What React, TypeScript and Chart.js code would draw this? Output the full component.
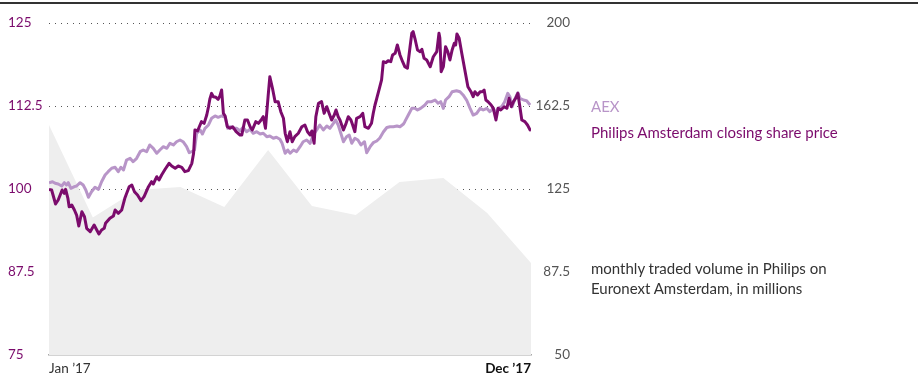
import React, { useEffect, useRef } from "react";
import { Chart, registerables } from "chart.js";

Chart.register(...registerables);

const FONT = 'Lato, "Liberation Sans", Arial, sans-serif';

const DARK = "#7b0b6c";
const LIGHT = "#b895c8";

// Monthly traded volume (millions), right axis, one point per month (Jan..Dec)
const volumeMonths = [0, 1, 2, 3, 4, 5, 6, 7, 8, 9, 10, 11];
const volumeMillions = [153.9, 112.1, 124.5, 125.9, 116.9, 142.6, 117.3, 113.3, 128.2, 130.0, 114.2, 91.6];

// [month position (0 = Jan, 11 = Dec), index value] — Philips Amsterdam closing share price (indexed)
const philipsSeries: [number, number][] = [
  [0, 99.95], [0.06, 99.85], [0.15, 97.74], [0.21, 98.34], [0.3, 99.85], [0.35, 99.35], [0.38, 99.95], [0.43, 98.64],
  [0.46, 97.33], [0.52, 97.59], [0.58, 96.84], [0.63, 96.08], [0.68, 94.43], [0.75, 96.58], [0.81, 95.83], [0.86, 94.08],
  [0.94, 93.57], [1.03, 94.58], [1.09, 93.83], [1.14, 93.22], [1.2, 93.83], [1.26, 94.08], [1.29, 94.83], [1.39, 95.59],
  [1.47, 95.93], [1.51, 96.84], [1.58, 96.34], [1.66, 96.84], [1.73, 98.6], [1.83, 100.35], [1.89, 100.6], [1.95, 99.59],
  [2.02, 99.1], [2.1, 98.24], [2.17, 98.84], [2.27, 100.35], [2.34, 101.1], [2.38, 100.75], [2.46, 101.85], [2.51, 101.36],
  [2.57, 102.11], [2.65, 102.97], [2.74, 103.87], [2.8, 103.46], [2.88, 103.12], [2.95, 103.46], [3.03, 103.27], [3.1, 102.61],
  [3.18, 102.76], [3.26, 103.87], [3.3, 105.38], [3.33, 108.89], [3.39, 108.74], [3.43, 109.38], [3.48, 110.14], [3.54, 109.89],
  [3.6, 111.14], [3.64, 112.39], [3.67, 113.51], [3.71, 114.41], [3.75, 113.9], [3.81, 113.81], [3.86, 113.51], [3.9, 114.01],
  [3.94, 114.91], [3.98, 111.4], [4.02, 111.0], [4.07, 109.38], [4.13, 109.14], [4.19, 109.38], [4.27, 108.63], [4.36, 108.13],
  [4.4, 108.13], [4.47, 110.39], [4.53, 110.39], [4.59, 109.38], [4.64, 108.89], [4.72, 110.14], [4.78, 109.89], [4.84, 110.39],
  [4.89, 110.89], [4.94, 109.14], [5.0, 113.9], [5.04, 116.91], [5.1, 115.17], [5.16, 113.15], [5.23, 113.15], [5.29, 111.64],
  [5.35, 110.65], [5.39, 108.39], [5.44, 107.12], [5.5, 108.63], [5.55, 107.12], [5.61, 107.88], [5.69, 108.39], [5.77, 109.38],
  [5.84, 109.64], [5.9, 108.63], [5.96, 108.13], [6.0, 108.74], [6.05, 106.88], [6.09, 110.89], [6.15, 112.91], [6.22, 113.15],
  [6.28, 111.4], [6.34, 112.39], [6.39, 111.45], [6.45, 110.39], [6.51, 111.14], [6.55, 111.9], [6.6, 110.89], [6.64, 110.39],
  [6.72, 108.89], [6.78, 109.89], [6.83, 110.89], [6.89, 110.39], [6.93, 109.64], [6.98, 108.63], [7.02, 110.65], [7.1, 110.89],
  [7.16, 111.4], [7.21, 109.38], [7.29, 109.14], [7.36, 109.89], [7.4, 111.4], [7.44, 112.65], [7.48, 113.66], [7.54, 115.17],
  [7.59, 116.42], [7.63, 119.17], [7.69, 119.02], [7.74, 119.32], [7.8, 119.17], [7.84, 120.18], [7.9, 120.44], [7.95, 121.69],
  [8.01, 120.18], [8.07, 119.17], [8.12, 118.42], [8.18, 118.18], [8.24, 121.43], [8.28, 123.45], [8.31, 123.69], [8.35, 122.7],
  [8.41, 120.93], [8.47, 120.68], [8.51, 121.04], [8.56, 119.68], [8.62, 119.43], [8.7, 118.42], [8.77, 119.92], [8.85, 120.68],
  [8.9, 123.45], [8.92, 122.74], [8.95, 117.67], [9.0, 118.42], [9.05, 121.43], [9.1, 120.68], [9.15, 119.43], [9.2, 120.93],
  [9.25, 121.94], [9.28, 121.69], [9.31, 123.34], [9.36, 122.7], [9.42, 120.44], [9.49, 117.92], [9.56, 115.41], [9.63, 114.65],
  [9.68, 113.9], [9.72, 114.65], [9.78, 114.16], [9.84, 114.65], [9.89, 114.65], [9.93, 114.91], [9.97, 113.4], [10.02, 113.15],
  [10.09, 112.65], [10.14, 112.15], [10.2, 110.39], [10.25, 112.15], [10.31, 111.9], [10.39, 112.39], [10.45, 112.15], [10.5, 113.66],
  [10.55, 112.39], [10.6, 113.15], [10.65, 113.66], [10.7, 114.41], [10.74, 112.65], [10.79, 110.39], [10.86, 110.14], [10.92, 109.64],
  [10.98, 108.89], [11.0, 108.81],
];

// [month position, index value] — AEX (indexed)
const aexSeries: [number, number][] = [
  [0, 100.95], [0.08, 101.1], [0.14, 100.86], [0.21, 100.75], [0.29, 100.45], [0.35, 100.95], [0.4, 100.6], [0.44, 100.95],
  [0.5, 100.11], [0.58, 100.35], [0.63, 100.45], [0.71, 100.95], [0.78, 100.6], [0.84, 99.85], [0.9, 98.75], [0.97, 99.59],
  [1.05, 100.26], [1.13, 99.95], [1.2, 101.1], [1.28, 102.11], [1.35, 102.61], [1.43, 103.12], [1.51, 103.27], [1.58, 102.61],
  [1.64, 103.27], [1.7, 102.86], [1.77, 104.37], [1.85, 104.62], [1.92, 104.11], [2.0, 104.62], [2.08, 105.62], [2.15, 105.87],
  [2.23, 105.62], [2.3, 106.63], [2.38, 106.13], [2.46, 105.38], [2.53, 105.87], [2.61, 106.37], [2.69, 106.13], [2.76, 106.88],
  [2.84, 106.63], [2.91, 107.12], [2.99, 107.38], [3.06, 107.12], [3.14, 106.37], [3.2, 105.47], [3.26, 105.62], [3.32, 105.87],
  [3.37, 108.39], [3.45, 108.89], [3.5, 108.28], [3.56, 109.14], [3.64, 109.64], [3.71, 110.65], [3.79, 111.0], [3.86, 110.8],
  [3.94, 111.0], [4.02, 110.8], [4.08, 109.14], [4.13, 109.38], [4.21, 109.14], [4.28, 109.14], [4.36, 108.78], [4.43, 109.29],
  [4.51, 108.63], [4.59, 108.99], [4.66, 108.39], [4.74, 108.63], [4.82, 108.28], [4.89, 108.39], [4.97, 107.88], [5.04, 107.98],
  [5.12, 107.64], [5.19, 107.79], [5.27, 107.49], [5.32, 106.88], [5.39, 105.38], [5.45, 105.87], [5.5, 105.38], [5.58, 105.87],
  [5.65, 105.62], [5.73, 106.37], [5.8, 107.12], [5.88, 107.38], [5.96, 106.88], [6.03, 108.13], [6.11, 108.89], [6.18, 109.64],
  [6.26, 108.89], [6.34, 109.49], [6.41, 109.14], [6.49, 109.89], [6.54, 110.39], [6.6, 109.64], [6.66, 108.39], [6.72, 107.12],
  [6.79, 107.88], [6.85, 108.13], [6.91, 106.88], [6.98, 107.64], [7.05, 107.38], [7.12, 106.63], [7.2, 107.12], [7.25, 105.47],
  [7.33, 106.37], [7.4, 106.97], [7.48, 107.23], [7.55, 107.68], [7.63, 108.58], [7.71, 109.26], [7.78, 109.38], [7.86, 109.38],
  [7.94, 109.49], [8.01, 109.38], [8.09, 109.79], [8.12, 110.14], [8.2, 111.14], [8.28, 112.15], [8.35, 112.15], [8.41, 111.9],
  [8.48, 112.15], [8.58, 112.65], [8.64, 113.15], [8.73, 113.15], [8.81, 113.4], [8.88, 112.91], [8.94, 113.15], [9.0, 112.15],
  [9.05, 113.4], [9.13, 113.9], [9.2, 114.65], [9.3, 114.8], [9.38, 114.65], [9.45, 114.16], [9.53, 113.4], [9.61, 112.15],
  [9.68, 111.14], [9.76, 111.4], [9.84, 112.15], [9.91, 111.9], [9.99, 112.15], [10.06, 111.64], [10.14, 112.15], [10.19, 111.4],
  [10.25, 112.15], [10.33, 112.39], [10.4, 113.15], [10.47, 114.41], [10.52, 113.9], [10.57, 112.39], [10.64, 113.66], [10.7, 114.5],
  [10.75, 113.66], [10.83, 113.4], [10.9, 113.3], [10.98, 112.65],
];

const xTickLabels = ["Jan \u201917", "Dec \u201917"];
const legendLabels = {
  aex: "AEX",
  philips: "Philips Amsterdam closing share price",
  volume1: "monthly traded volume in Philips on",
  volume2: "Euronext Amsterdam, in millions",
};

export default function App() {
  const canvasRef = useRef<HTMLCanvasElement | null>(null);

  useEffect(() => {
    const canvas = canvasRef.current;
    if (!canvas) return;
    const chart = new Chart(canvas, {
      type: "line",
      data: {
        datasets: [
          {
            label: "Philips",
            data: philipsSeries.map(([x, y]) => ({ x, y })),
            borderColor: DARK,
            borderWidth: 3,
            pointRadius: 0,
            tension: 0,
            yAxisID: "y",
            order: 0,
            borderJoinStyle: "round",
          },
          {
            label: "AEX",
            data: aexSeries.map(([x, y]) => ({ x, y })),
            borderColor: LIGHT,
            borderWidth: 3,
            pointRadius: 0,
            tension: 0,
            yAxisID: "y",
            order: 1,
            borderJoinStyle: "round",
          },
          {
            label: "Volume",
            data: volumeMonths.map((m, i) => ({ x: m, y: volumeMillions[i] })),
            borderWidth: 0,
            borderColor: "rgba(0,0,0,0)",
            backgroundColor: "#eeeeee",
            fill: "start",
            pointRadius: 0,
            tension: 0,
            yAxisID: "y2",
            order: 2,
          },
        ],
      },
      options: {
        animation: false,
        responsive: false,
        maintainAspectRatio: false,
        layout: { padding: { left: 8, right: 348, top: 23, bottom: 0 } },
        plugins: { legend: { display: false }, tooltip: { enabled: false } },
        scales: {
          x: {
            type: "linear",
            min: 0,
            max: 11,
            grid: { display: false, drawTicks: false },
            border: { display: true, color: "#a8a8a8", width: 1.5 },
            afterBuildTicks: (scale: any) => {
              scale.ticks = [{ value: 0 }, { value: 11 }];
            },
            afterFit: (scale: any) => {
              scale.height = 34;
            },
            ticks: {
              autoSkip: false,
              maxRotation: 0,
              align: "inner",
              padding: 6,
              color: (ctx: any) => (ctx.tick && ctx.tick.value === 11 ? "#111" : "#333"),
              font: (ctx: any) => ({
                family: FONT,
                size: 13.5,
                weight: ctx.tick && ctx.tick.value === 11 ? "bold" : "normal",
              }),
              callback: (v: any) => (v === 0 ? xTickLabels[0] : xTickLabels[1]),
            },
          },
          y: {
            position: "left",
            min: 75,
            max: 125,
            afterFit: (scale: any) => {
              scale.width = 41;
            },
            grid: {
              drawTicks: false,
              color: (ctx: any) => (ctx.tick && ctx.tick.value === 75 ? "rgba(0,0,0,0)" : "#555"),
              lineWidth: 1,
            },
            border: { display: false, dash: [1, 5] },
            ticks: {
              stepSize: 12.5,
              crossAlign: "far",
              padding: 0,
              color: DARK,
              font: { family: FONT, size: 13.5 },
              callback: (v: any) => String(v),
            },
          },
          y2: {
            position: "right",
            min: 50,
            max: 200,
            afterFit: (scale: any) => {
              scale.width = 39;
            },
            grid: { display: false, drawOnChartArea: false, drawTicks: false },
            border: { display: false },
            ticks: {
              stepSize: 37.5,
              crossAlign: "far",
              padding: 0,
              color: "#555",
              font: { family: FONT, size: 13.5 },
              callback: (v: any) => String(v),
            },
          },
        },
      },
    });
    return () => chart.destroy();
  }, []);

  const textBase: React.CSSProperties = {
    position: "absolute",
    left: 591,
    fontFamily: FONT,
    fontSize: 15,
    lineHeight: "20px",
    whiteSpace: "nowrap",
  };

  return (
    <div style={{ position: "fixed", left: 0, top: 0, width: 918, height: 389, background: "#fff" }}>
      <div style={{ position: "absolute", left: 0, top: 2, width: 918, height: 2, background: "#333" }} />
      <canvas ref={canvasRef} width={918} height={389} style={{ position: "absolute", left: 0, top: 0 }} />
      <div style={{ ...textBase, top: 96, color: LIGHT }}>{legendLabels.aex}</div>
      <div style={{ ...textBase, top: 122, color: DARK }}>{legendLabels.philips}</div>
      <div style={{ ...textBase, top: 258, color: "#333" }}>
        {legendLabels.volume1}
        <br />
        {legendLabels.volume2}
      </div>
    </div>
  );
}
